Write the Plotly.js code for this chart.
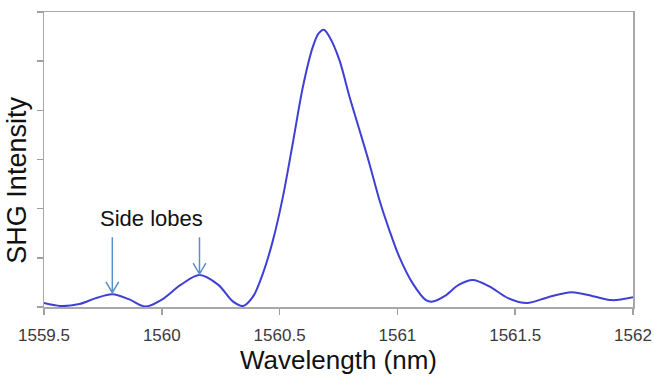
<!DOCTYPE html>
<html>
<head>
<meta charset="utf-8">
<script src="https://cdn.plot.ly/plotly-3.0.1.min.js"></script>
<style>html,body{margin:0;padding:0;background:#fff;}#chart{width:654px;height:379px;}</style>
</head>
<body>
<div id="chart"></div>
<script>
const wavelength = [1559.50,1559.57,1559.65,1559.72,1559.79,1559.86,1559.93,1560.00,1560.08,1560.16,1560.24,1560.30,1560.345,1560.387,1560.429,1560.472,1560.514,1560.556,1560.599,1560.641,1560.665,1560.688,1560.712,1560.754,1560.797,1560.839,1560.881,1560.924,1560.966,1561.008,1561.065,1561.121,1561.15,1561.20,1561.26,1561.32,1561.39,1561.47,1561.55,1561.64,1561.74,1561.83,1561.91,1562.00];
const intensity = [0.08,0.02,0.06,0.18,0.26,0.16,0.01,0.15,0.45,0.65,0.45,0.12,0.02,0.21,0.68,1.36,2.24,3.33,4.48,5.29,5.56,5.64,5.49,5.02,4.27,3.60,2.92,2.17,1.56,1.02,0.48,0.14,0.11,0.22,0.45,0.55,0.42,0.18,0.08,0.20,0.30,0.22,0.14,0.20];
const xTicks = [1559.5,1560,1560.5,1561,1561.5,1562];
const xTickLabels = ['1559.5','1560','1560.5','1561','1561.5','1562'];
const xTitle = 'Wavelength (nm)';
const yTitle = 'SHG Intensity';
const lobeLabel = 'Side lobes';
const lobeLabelPos = [1559.958, 1.81];
const lobeArrows = [[1559.79, 1.42, 0.29], [1560.16, 1.42, 0.67]];

const arrowShapes = lobeArrows.map(function(a){
  const x=a[0], y1=a[1], y2=a[2], dx=0.027, dy=0.22;
  return {type:'path', xref:'x', yref:'y',
    path:'M'+x+','+y1+' L'+x+','+y2+' M'+(x-dx)+','+(y2+dy)+' L'+x+','+y2+' L'+(x+dx)+','+(y2+dy),
    line:{color:'#5b8ec6', width:1.5}};
});

const data = [{x:wavelength, y:intensity, type:'scatter', mode:'lines',
  line:{color:'#3f3fd6', width:2, shape:'spline', smoothing:0.9}, hoverinfo:'skip'}];

const layout = {
  width:654, height:379,
  margin:{l:44, r:21, t:12, b:72},
  paper_bgcolor:'#fff', plot_bgcolor:'#fff',
  showlegend:false,
  font:{family:'Liberation Sans, Arial, sans-serif'},
  xaxis:{range:[1559.5,1562], tickvals:xTicks, ticktext:xTickLabels,
    ticks:'outside', ticklen:6, tickcolor:'#a0a0a0', tickwidth:1.5,
    ticklabelstandoff:6,
    showline:true, linecolor:'#a8a8a8', linewidth:1.5, mirror:true,
    showgrid:false, zeroline:false,
    tickfont:{family:'Liberation Sans, Arial, sans-serif', size:17, color:'#3a3a3a'},
    title:{text:xTitle, font:{size:26, color:'#111'}, standoff:6}},
  yaxis:{range:[0,6], dtick:1, tick0:0, showticklabels:false,
    ticks:'outside', ticklen:6, tickcolor:'#a0a0a0', tickwidth:1.5,
    showline:true, linecolor:'#a8a8a8', linewidth:1.5, mirror:true,
    showgrid:false, zeroline:false},
  shapes: arrowShapes,
  annotations:[
    {x:lobeLabelPos[0], y:lobeLabelPos[1], xref:'x', yref:'y', text:lobeLabel,
      showarrow:false, font:{size:22, color:'#111'}},
    {x:-0.045, y:0.43, xref:'paper', yref:'paper', text:yTitle, textangle:-90,
      xanchor:'center', yanchor:'middle', showarrow:false, font:{size:27, color:'#111'}}
  ]
};
Plotly.newPlot('chart', data, layout, {displayModeBar:false, staticPlot:true});
</script>
</body>
</html>
